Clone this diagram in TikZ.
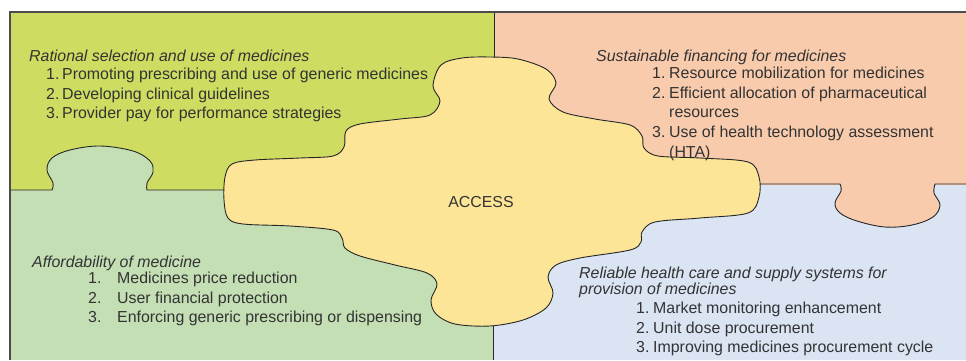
\documentclass[tikz,border=0pt]{standalone}
\usepackage{fontspec}
\setmainfont{Liberation Sans}
\usepackage{xcolor}
\usepackage{tikz}

\definecolor{selgreen}{HTML}{CEDD61}
\definecolor{affgreen}{HTML}{C5DFB5}
\definecolor{finpeach}{HTML}{F8CBAD}
\definecolor{supblue}{HTML}{DAE4F2}
\definecolor{accyellow}{HTML}{FCE596}
\definecolor{inkgray}{HTML}{333333}

\newcommand{\numlist}[2]{\begin{tabular}[t]{@{}p{#1}@{}l@{}}#2\end{tabular}}

\tikzset{
  blocktext/.style={font=\fontsize{15.9}{19.7}\selectfont, text=inkgray, inner sep=0pt, anchor=base west},
  heading/.style={blocktext, font=\fontsize{15.9}{19.7}\selectfont\itshape},
  divider/.style={draw=black!85, line width=0.9pt},
  frameline/.style={draw=black!70, line width=1.6pt},
  accessblob/.style={fill=accyellow, draw=black!85, line width=0.9pt},
}

\begin{document}
\begin{tikzpicture}[x=1pt, y=-1pt]
\useasboundingbox (0,0) rectangle (966,360);

% Quadrants
\fill[selgreen] (10,12) rectangle (494,190);
\fill[finpeach] (494,12) rectangle (966,185);
\fill[affgreen] (10,190) rectangle (493,360);
\fill[supblue] (493,185) rectangle (966,360);

% Puzzle knobs
\fill[affgreen] plot[smooth, tension=0.6] coordinates {(52,190) (53,183) (47,170) (52,158) (70,150) (100,146) (133,151) (150,161) (153,172) (147,183) (147,190)} -- cycle;
\fill[finpeach] plot[smooth, tension=0.6] coordinates {(840,184) (841,191) (835,203) (840,213) (857,221) (885,227) (912,225) (933,217) (940,205) (934,193) (935,184)} -- cycle;

% Dividers
\draw[divider] (10,190) -- plot[smooth, tension=0.6] coordinates {(52,190) (53,183) (47,170) (52,158) (70,150) (100,146) (133,151) (150,161) (153,172) (147,183) (147,190)} -- (235,190);
\draw[divider] (750,184) -- plot[smooth, tension=0.6] coordinates {(840,184) (841,191) (835,203) (840,213) (857,221) (885,227) (912,225) (933,217) (940,205) (934,193) (935,184)} -- (966,184);
\draw[divider] (494,12) -- (494,62);
\draw[divider] (493,318) -- (493,360);

% Access piece
\draw[accessblob] plot[smooth cycle, tension=0.55] coordinates {
  (441,65) (462,58) (490,57) (518,59) (546,69) (556,83) (549,99) (563,112)
  (595,119) (630,125) (642,136) (644,148) (658,156) (700,158) (748,162)
  (759,177) (759,197) (748,213) (700,218) (655,222) (642,232) (641,242)
  (630,250) (580,258) (556,265) (548,277) (553,293) (546,308) (523,320)
  (490,326) (455,324) (436,314) (431,300) (437,284) (427,273) (395,265)
  (360,256) (345,248) (342,238) (333,230) (290,226) (243,224) (228,218)
  (224,200) (225,177) (232,164) (255,160) (300,158) (333,156) (344,147)
  (346,131) (360,124) (400,119) (430,115) (440,101) (433,86)
};
\node[blocktext, anchor=center] (access) at (481,202) {ACCESS};

% Frame
\draw[frameline] (10,360) -- (10,12) -- (966,12);

% Rational selection
\node[heading] (selhead) at (29,61.5) {Rational selection and use of medicines};
\node[blocktext] (sellist) at (46,79.3) {\numlist{16pt}{1. & Promoting prescribing and use of generic medicines\\
  2. & Developing clinical guidelines\\
  3. & Provider pay for performance strategies}};

% Sustainable financing
\node[heading] (finhead) at (596,61) {Sustainable financing for medicines};
\node[blocktext] (finlist) at (652,78.5) {\numlist{17pt}{1. & Resource mobilization for medicines\\
  2. & Efficient allocation of pharmaceutical\\
     & resources\\
  3. & Use of health technology assessment\\
     & (HTA)}};

% Affordability
\node[heading] (affhead) at (32,267) {Affordability of medicine};
\node[blocktext] (afflist) at (88,283.3) {\numlist{29pt}{1. & Medicines price reduction\\
  2. & User financial protection\\
  3. & Enforcing generic prescribing or dispensing}};

% Supply systems
\node[heading] (suphead) at (579,278) {\begin{tabular}[t]{@{}l@{}}Reliable health care and supply systems for\\[-2.8pt]
  provision of medicines\end{tabular}};
\node[blocktext] (suplist) at (636,313.3) {\numlist{17pt}{1. & Market monitoring enhancement\\
  2. & Unit dose procurement\\
  3. & Improving medicines procurement cycle}};

\end{tikzpicture}
\end{document}
